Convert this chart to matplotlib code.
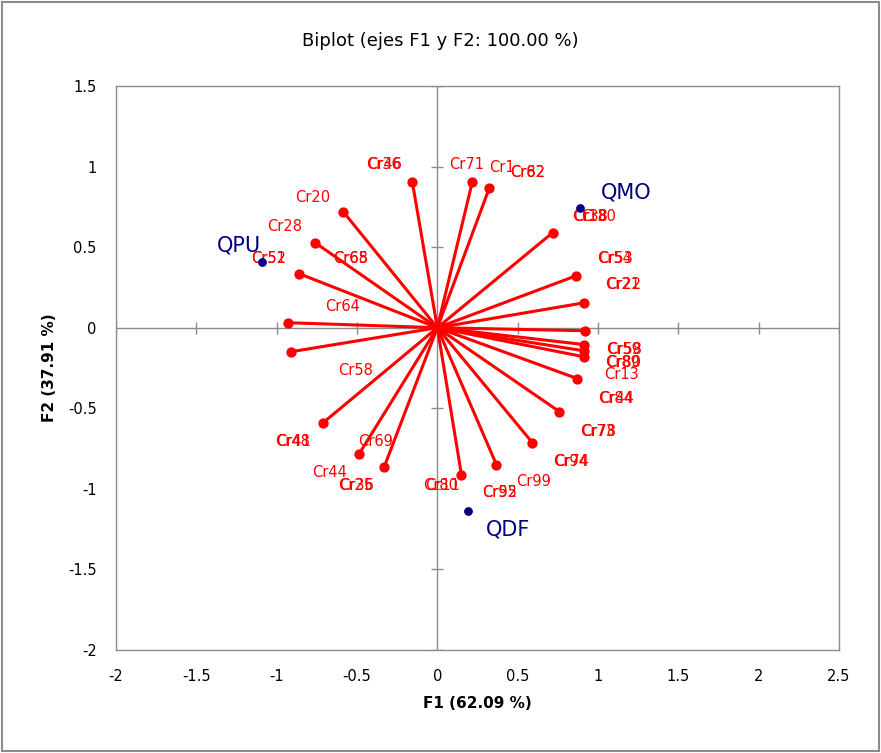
import matplotlib
matplotlib.use("Agg")
import matplotlib.pyplot as plt
from matplotlib.patches import Rectangle

# vector end points (F1, F2)
vec_x = [-0.156, 0.218, 0.324, -0.586, 0.717, -0.760, -0.860, 0.866, 0.916, -0.928,
         0.922, -0.910, 0.916, 0.910, 0.910, 0.872, 0.760, 0.592, -0.710, -0.486,
         -0.330, 0.150, 0.368]
vec_y = [0.906, 0.906, 0.868, 0.720, 0.589, 0.527, 0.335, 0.323, 0.155, 0.031,
         -0.019, -0.149, -0.105, -0.143, -0.180, -0.316, -0.521, -0.714, -0.589, -0.782,
         -0.862, -0.912, -0.850]

# variable labels as placed in the chart
lab_text = ["Cr36", "Cr46", "Cr71", "Cr1", "Cr62", "Cr82", "Cr20", "Cr28",
            "Cr52", "Cr51", "Cr68", "Cr65", "Cr64", "Cr58", "Cr48", "Cr41",
            "Cr69", "Cr44", "Cr25", "Cr36", "Cr80", "Cr11", "Cr55", "Cr92",
            "Cr99", "Cr94", "Cr74", "Cr73", "Cr78", "Cr54", "Cr53", "Cr21",
            "Cr22", "Cr59", "Cr58", "Cr89", "Cr80", "Cr13", "Cr84", "Cr44",
            "Cr18", "Cr38", "Cr30"]
lab_x = [-0.336, -0.330, 0.181, 0.405, 0.561, 0.561, -0.779, -0.953,
         -1.053, -1.048, -0.542, -0.538, -0.592, -0.511, -0.903, -0.898,
         -0.386, -0.673, -0.511, -0.505, 0.020, 0.035, 0.386, 0.390,
         0.598, 0.829, 0.833, 0.997, 1.001, 1.103, 1.107, 1.153,
         1.157, 1.159, 1.163, 1.153, 1.157, 1.146, 1.109, 1.113,
         0.945, 0.955, 1.005]
lab_y = [1.011, 1.011, 1.014, 0.996, 0.965, 0.965, 0.811, 0.625,
         0.427, 0.427, 0.427, 0.427, 0.130, -0.267, -0.709, -0.709,
         -0.709, -0.901, -0.982, -0.982, -0.982, -0.982, -1.020, -1.020,
         -0.957, -0.833, -0.833, -0.646, -0.646, 0.427, 0.427, 0.266,
         0.266, -0.136, -0.136, -0.217, -0.217, -0.291, -0.440, -0.440,
         0.688, 0.688, 0.688]

# supplementary points
sup_names = ["QPU", "QMO", "QDF"]
sup_x = [-1.090, 0.891, 0.193]
sup_y = [0.409, 0.744, -1.135]
sup_lab_x = [-1.234, 1.178, 0.442]
sup_lab_y = [0.508, 0.836, -1.250]

x_ticks = [-2, -1.5, -1, -0.5, 0, 0.5, 1, 1.5, 2, 2.5]
y_ticks = [-2, -1.5, -1, -0.5, 0, 0.5, 1, 1.5]


def main():
    fig = plt.figure(figsize=(8.81, 7.53), dpi=100)
    fig.patches.append(Rectangle((0.002, 0.002), 0.996, 0.996, transform=fig.transFigure,
                                 fill=False, edgecolor="#8c8c8c", linewidth=1.5))
    ax = fig.add_axes([0.1317, 0.1368, 0.8206, 0.749])

    ax.set_xlim(-2, 2.5)
    ax.set_ylim(-2, 1.5)

    # central axes with cross ticks
    ax.axhline(0, color="#8c8c8c", lw=1, zorder=1)
    ax.axvline(0, color="#8c8c8c", lw=1, zorder=1)
    ax.plot(x_ticks, [0] * len(x_ticks), ls="none", marker="|", ms=9, mew=1, color="#8c8c8c", zorder=1)
    ax.plot([0] * len(y_ticks), y_ticks, ls="none", marker="_", ms=9, mew=1, color="#8c8c8c", zorder=1)

    # vectors
    for vx, vy in zip(vec_x, vec_y):
        ax.plot([0, vx], [0, vy], color="red", lw=2.2, zorder=2)
    ax.scatter(vec_x, vec_y, s=55, color="red", zorder=3, linewidths=0)

    for t, lx, ly in zip(lab_text, lab_x, lab_y):
        ax.text(lx, ly, t, color="red", fontsize=10.5, ha="center", va="center",
                family="DejaVu Sans", zorder=4)

    # supplementary observations
    ax.scatter(sup_x, sup_y, s=40, color="#000080", zorder=5, linewidths=0)
    for t, lx, ly in zip(sup_names, sup_lab_x, sup_lab_y):
        ax.text(lx, ly, t, color="#000080", fontsize=15, ha="center", va="center",
                family="DejaVu Sans", zorder=5)

    for s in ax.spines.values():
        s.set_color("#8c8c8c")
        s.set_linewidth(1)
    ax.set_xticks(x_ticks)
    ax.set_yticks(y_ticks)
    ax.set_xticklabels([f"{v:g}" for v in x_ticks], fontsize=10.5)
    ax.set_yticklabels([f"{v:g}" for v in y_ticks], fontsize=10.5)
    ax.tick_params(length=0, pad=14)

    ax.set_xlabel("F1 (62.09 %)", fontsize=11, fontweight="bold", labelpad=8)
    ax.set_ylabel("F2 (37.91 %)", fontsize=11, fontweight="bold", labelpad=8)
    fig.text(0.5, 0.945, "Biplot (ejes F1 y F2: 100.00 %)", fontsize=13,
             ha="center", va="center")

    fig.savefig("out.png", dpi=100)


if __name__ == "__main__":
    main()
